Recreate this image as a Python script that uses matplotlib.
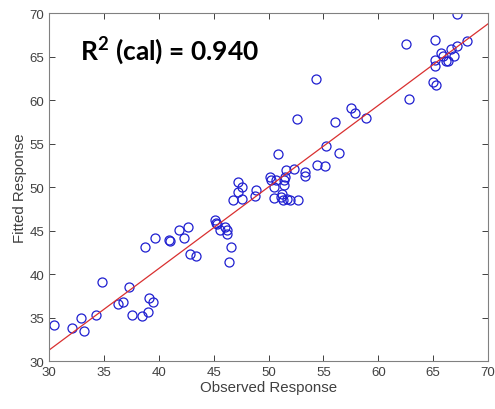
import numpy as np
import matplotlib.pyplot as plt

plt.rcParams['font.family'] = ['Liberation Sans', 'DejaVu Sans']
plt.rcParams['mathtext.fontset'] = 'custom'
plt.rcParams['mathtext.bf'] = 'Lato:bold'
plt.rcParams['mathtext.rm'] = 'Lato:bold'

observed = [30.5, 32.1, 32.9, 33.2, 34.3, 34.8, 36.3, 36.7, 37.3, 37.6,
            38.5, 39.0, 39.1, 39.5, 38.7, 39.7, 40.9, 41.0, 41.8, 42.3,
            42.7, 42.85, 43.4, 45.1, 45.2, 45.3, 45.6, 46.0, 46.2, 46.2,
            46.6, 46.4, 46.8, 47.2, 47.6, 47.2, 47.6, 48.9, 48.8, 50.1,
            50.2, 50.65, 50.5, 50.9, 51.6, 51.5, 51.4, 51.4, 52.3, 51.2,
            50.5, 51.1, 51.35, 51.65, 52.0, 52.7, 53.3, 53.3, 54.4, 55.1,
            55.2, 52.6, 54.3, 56.4, 56.05, 57.5, 57.9, 58.9, 62.5, 62.8,
            65.2, 65.15, 65.2, 65.0, 65.3, 65.75, 65.9, 66.2, 66.35, 66.6,
            66.9, 67.2, 68.1, 67.2]
fitted = [34.2, 33.8, 35.0, 33.5, 35.3, 39.1, 36.6, 36.8, 38.6, 35.3,
          35.2, 35.7, 37.3, 36.8, 43.2, 44.2, 44.0, 43.8, 45.1, 44.2,
          45.5, 42.3, 42.1, 46.2, 45.95, 45.8, 45.15, 45.5, 45.15, 44.6,
          43.2, 41.4, 48.6, 49.45, 48.7, 50.6, 50.0, 49.75, 49.05, 51.25,
          50.9, 50.8, 50.0, 53.8, 52.0, 51.2, 50.8, 50.3, 52.1, 49.2,
          48.8, 48.9, 48.6, 48.7, 48.5, 48.6, 51.75, 51.35, 52.6, 52.5,
          54.8, 57.9, 62.4, 53.9, 57.5, 59.1, 58.6, 58.0, 66.5, 60.2,
          66.95, 64.65, 63.9, 62.1, 61.8, 65.4, 65.05, 64.5, 64.5, 65.9,
          65.1, 66.3, 66.8, 69.9]

# calibration fit line endpoints
fit_x = [30, 70]
fit_y = [31.3, 68.8]
r2_cal = 0.940

fig = plt.figure(figsize=(4.95, 4.10), dpi=100)
ax = fig.add_axes([0.099, 0.116, 0.887, 0.849])

ax.plot(observed, fitted, 'o', mfc='none', mec='#1f1fd0', ms=6.5, mew=0.9)
ax.plot(fit_x, fit_y, '-', color='#d93030', lw=0.9)

ax.set_xlim(30, 70)
ax.set_ylim(30, 70)
ax.set_xticks(np.arange(30, 71, 5))
ax.set_yticks(np.arange(30, 71, 5))
ax.tick_params(direction='in', top=True, right=True, length=4,
               colors='#404040', labelsize=9.5, width=0.7)
for s in ax.spines.values():
    s.set_color('#808080')
    s.set_linewidth(0.8)

ax.set_xlabel('Observed Response', fontsize=10.8, color='#404040', labelpad=1)
ax.set_ylabel('Fitted Response', fontsize=10.8, color='#404040', labelpad=2)

fig.text(80 / 495, 1 - 60 / 410, r'R$^{\mathbf{2}}$' + f' (cal) = {r2_cal:.3f}',
         fontsize=19, fontweight='bold', family=['Lato', 'DejaVu Sans'],
         color='black', va='baseline', ha='left')

fig.savefig('out.png', dpi=100)
